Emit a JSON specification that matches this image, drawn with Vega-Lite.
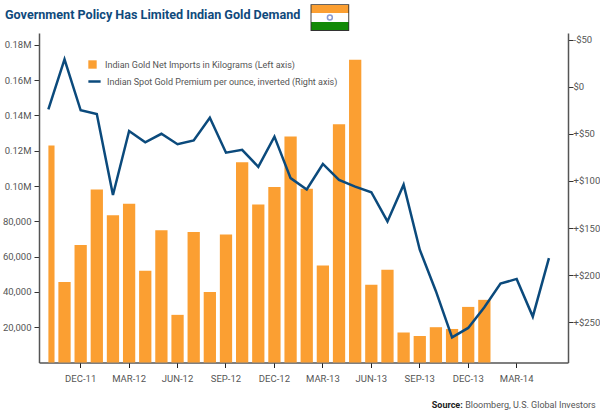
{
"$schema":"https://vega.github.io/schema/vega-lite/v6.json",
"width":529,"height":329.5,
"autosize":{"type":"none"},
"padding":{"left":39,"top":33,"right":32,"bottom":50.5},
"background":"white",
"title":{"text":"Government Policy Has Limited Indian Gold Demand","anchor":"start","frame":"group","dx":-34,"offset":-17,"font":"Roboto","fontSize":12.6,"fontWeight":"bold","color":"#0f4a7c"},
"config":{"view":{"stroke":null},"axis":{"labelFont":"Roboto","labelFontSize":9.5,"labelColor":"#555555","grid":false,"title":null,"domainColor":"#555555","domainWidth":1.5,"tickColor":"#333333","tickSize":5}},
"data":{"values":[
{"month":"OCT-11","imports":123000,"premium":24},
{"month":"NOV-11","imports":45600,"premium":-29},
{"month":"DEC-11","imports":66600,"premium":25},
{"month":"JAN-12","imports":98000,"premium":29},
{"month":"FEB-12","imports":83500,"premium":115},
{"month":"MAR-12","imports":90000,"premium":47},
{"month":"APR-12","imports":52000,"premium":59},
{"month":"MAY-12","imports":75000,"premium":50},
{"month":"JUN-12","imports":27000,"premium":61},
{"month":"JUL-12","imports":74000,"premium":57},
{"month":"AUG-12","imports":40000,"premium":33},
{"month":"SEP-12","imports":72500,"premium":70},
{"month":"OCT-12","imports":113500,"premium":67},
{"month":"NOV-12","imports":89500,"premium":85},
{"month":"DEC-12","imports":99500,"premium":53},
{"month":"JAN-13","imports":128000,"premium":97},
{"month":"FEB-13","imports":98500,"premium":109},
{"month":"MAR-13","imports":55000,"premium":82},
{"month":"APR-13","imports":135000,"premium":99},
{"month":"MAY-13","imports":171500,"premium":106},
{"month":"JUN-13","imports":44000,"premium":112},
{"month":"JUL-13","imports":52500,"premium":143},
{"month":"AUG-13","imports":17000,"premium":104},
{"month":"SEP-13","imports":15000,"premium":173},
{"month":"OCT-13","imports":20000,"premium":217},
{"month":"NOV-13","imports":19000,"premium":266},
{"month":"DEC-13","imports":31500,"premium":256},
{"month":"JAN-14","imports":35500,"premium":234},
{"month":"FEB-14","premium":209},
{"month":"MAR-14","premium":204},
{"month":"APR-14","premium":244},
{"month":"MAY-14","premium":182}
]},
"resolve":{"scale":{"y":"independent"}},
"layer":[
{"layer":[
{"transform":[{"filter":"datum.month!='OCT-11' && isValid(datum.imports)"}],
"mark":{"type":"bar","width":{"band":1}},
"encoding":{
"x":{"field":"month","type":"nominal","sort":null,
"scale":{"type":"band","paddingInner":0.24,"paddingOuter":0.5,"align":0.2,"domain":["OCT-11","NOV-11","DEC-11","JAN-12","FEB-12","MAR-12","APR-12","MAY-12","JUN-12","JUL-12","AUG-12","SEP-12","OCT-12","NOV-12","DEC-12","JAN-13","FEB-13","MAR-13","APR-13","MAY-13","JUN-13","JUL-13","AUG-13","SEP-13","OCT-13","NOV-13","DEC-13","JAN-14","FEB-14","MAR-14","APR-14","MAY-14"]},
"axis":{"values":["DEC-11","MAR-12","JUN-12","SEP-12","DEC-12","MAR-13","JUN-13","SEP-13","DEC-13","MAR-14"],"labelAngle":0,"labelPadding":6,"tickColor":"#222222","labelOverlap":false}},
"y":{"field":"imports","type":"quantitative","scale":{"domain":[0,186700],"nice":false,"zero":false},
"axis":{"orient":"left","values":[20000,40000,60000,80000,100000,120000,140000,160000,180000],"labelExpr":"datum.value>=100000?format(datum.value/1000000,'.2f')+'M':format(datum.value,',')","labelPadding":3}},
"fill":{"datum":"Indian Gold Net Imports in Kilograms (Left axis)","scale":{"range":["#fb9f32"]},
"legend":{"orient":"none","legendX":49,"legendY":27,"title":null,"symbolType":"square","symbolSize":70,"symbolStrokeWidth":0,"labelFont":"Roboto","labelFontSize":9,"labelColor":"#555555","labelLimit":400,"labelOffset":8}}
}},
{"transform":[{"filter":"datum.month=='OCT-11'"}],
"mark":{"type":"bar","width":{"band":0.5},"color":"#fb9f32","xOffset":3.1},
"encoding":{"x":{"field":"month","type":"nominal","sort":null},
"y":{"field":"imports","type":"quantitative"}}},
{"data":{"values":[{}]},"mark":{"type":"bar","width":{"band":3.15},"fill":"#333333","clip":false,"xOffset":7},
"encoding":{"x":{"datum":"MAR-13"},"y":{"datum":203000},"y2":{"datum":187900}}},
{"data":{"values":[{}]},"mark":{"type":"bar","width":{"band":3.0},"fill":"#fb9f32","clip":false,"xOffset":7},
"encoding":{"x":{"datum":"MAR-13"},"y":{"datum":202500},"y2":{"datum":198000}}},
{"data":{"values":[{}]},"mark":{"type":"bar","width":{"band":3.0},"fill":"#ffffff","clip":false,"xOffset":7},
"encoding":{"x":{"datum":"MAR-13"},"y":{"datum":198000},"y2":{"datum":192900}}},
{"data":{"values":[{}]},"mark":{"type":"bar","width":{"band":3.0},"fill":"#128a07","clip":false,"xOffset":7},
"encoding":{"x":{"datum":"MAR-13"},"y":{"datum":192900},"y2":{"datum":188400}}},
{"data":{"values":[{}]},"mark":{"type":"point","size":24,"filled":false,"stroke":"#5a6fc0","strokeWidth":1.5,"clip":false,"xOffset":7},
"encoding":{"x":{"datum":"MAR-13"},"y":{"datum":195500}}},
{"data":{"values":[{"t":"Source:"}]},"mark":{"type":"text","align":"right","baseline":"middle","font":"Roboto","fontWeight":"bold","fontSize":9,"color":"#222222","dx":43},
"encoding":{"x":{"datum":"SEP-13"},"y":{"datum":-24100},"text":{"field":"t"}}},
{"data":{"values":[{"t":"Bloomberg, U.S. Global Investors"}]},"mark":{"type":"text","align":"right","baseline":"middle","font":"Roboto","fontSize":9,"color":"#555555","dx":176},
"encoding":{"x":{"datum":"SEP-13"},"y":{"datum":-24100},"text":{"field":"t"}}}
]},
{"mark":{"type":"line","strokeWidth":2.5,"strokeJoin":"miter"},
"encoding":{
"x":{"field":"month","type":"nominal","sort":null},
"y":{"field":"premium","type":"quantitative","scale":{"domain":[-57,292.7],"reverse":true,"nice":false,"zero":false},
"axis":{"orient":"right","values":[-50,0,50,100,150,200,250],"labelExpr":"datum.value<0?'-$'+abs(datum.value):datum.value==0?'$0':'+$'+datum.value","labelPadding":0}},
"stroke":{"datum":"Indian Spot Gold Premium per ounce, inverted (Right axis)","scale":{"range":["#0b4a7c"]},
"legend":{"orient":"none","legendX":48,"legendY":41,"title":null,"symbolType":"stroke","symbolSize":150,"symbolStrokeWidth":2.5,"labelFont":"Roboto","labelFontSize":9,"labelColor":"#555555","labelLimit":400,"labelOffset":5}}
}}
]
}
